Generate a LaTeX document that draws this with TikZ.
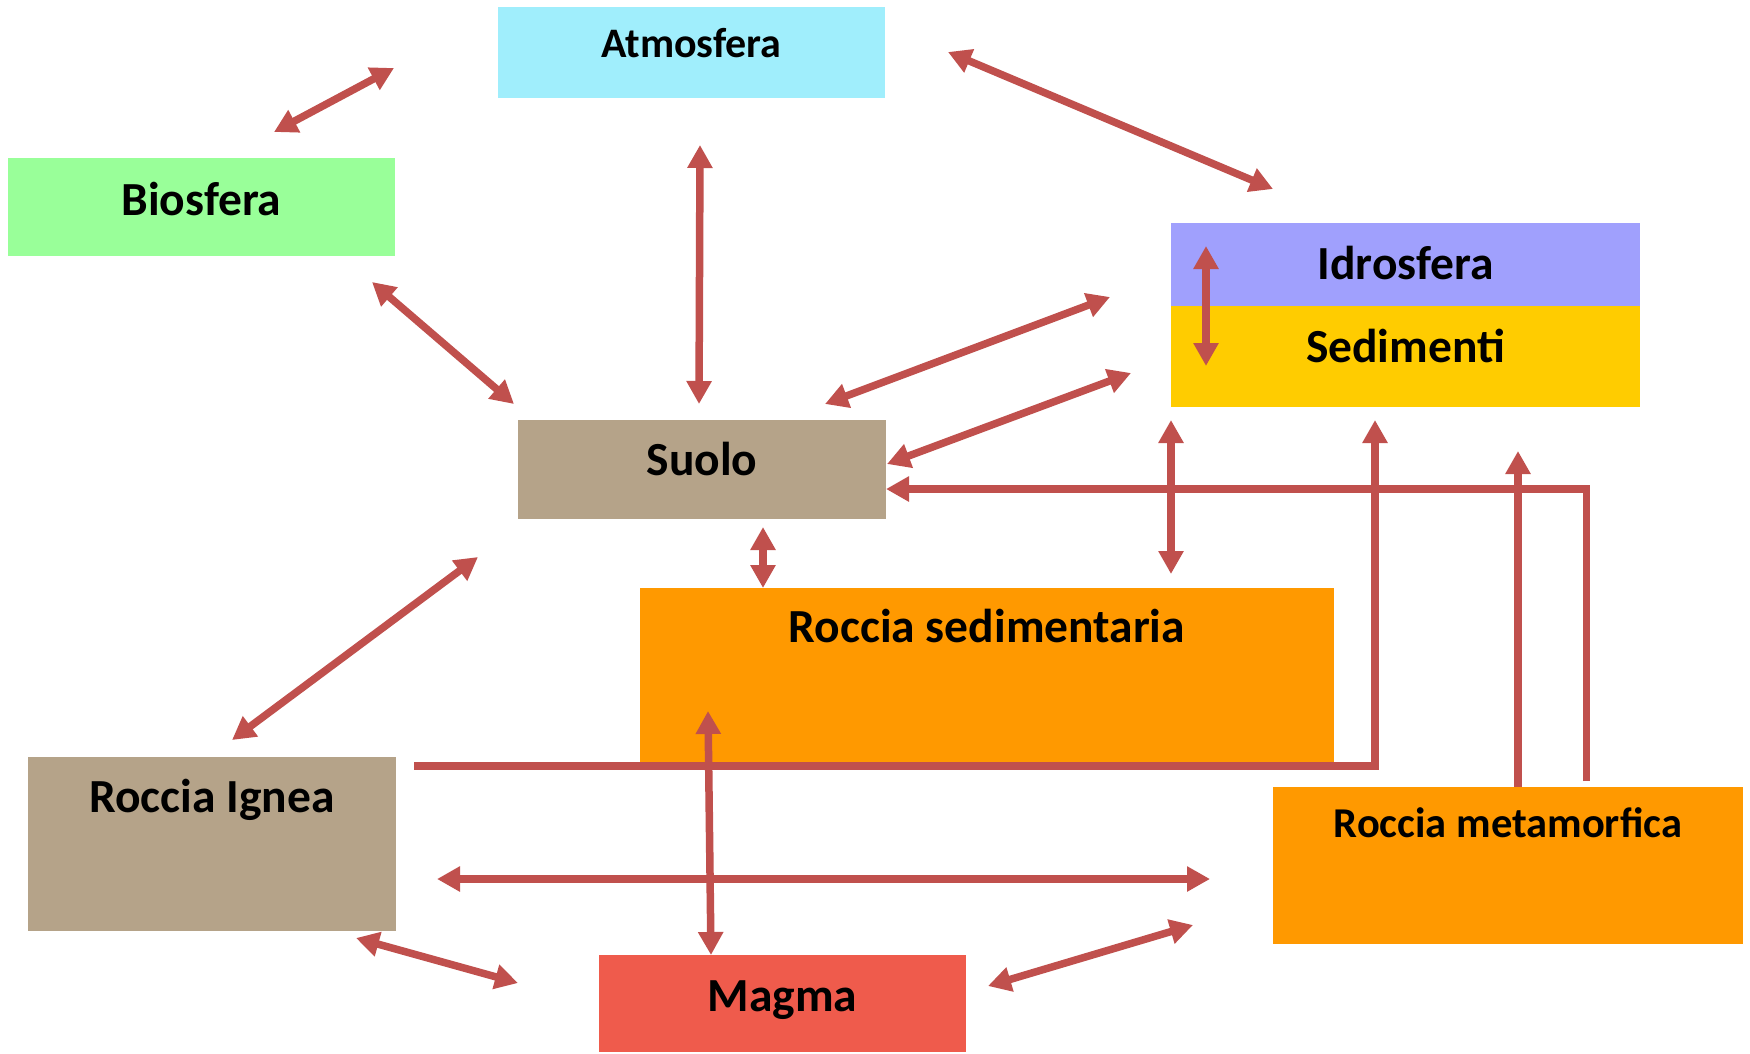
\documentclass[tikz,border=0pt]{standalone}
\usepackage{fontspec}
\setmainfont{Carlito}
\usetikzlibrary{arrows.meta,calc,positioning}

\definecolor{linkred}{RGB}{192,80,77}
\definecolor{atmcol}{RGB}{160,238,252}
\definecolor{biocol}{RGB}{153,255,153}
\definecolor{idrocol}{RGB}{160,160,253}
\definecolor{sedcol}{RGB}{255,204,0}
\definecolor{tancol}{RGB}{181,163,137}
\definecolor{rockcol}{RGB}{255,153,0}
\definecolor{magmacol}{RGB}{239,91,76}

\begin{document}
\begin{tikzpicture}[
        x=1pt, y=-1pt,
        >={Triangle[length=23pt,width=24pt]},
        link/.style={draw=linkred, line width=7.5pt},
        box/.style={inner sep=0pt, outer sep=0pt},
        lbl/.style={anchor=center, inner sep=0pt, text depth=0pt, font=\bfseries\fontsize{47.5}{52}\selectfont},
        smalllbl/.style={lbl, font=\bfseries\fontsize{42}{48}\selectfont}
    ]
    \useasboundingbox (0,0) rectangle (1750,1053);

    % Nodes
    \node[box, fill=atmcol, minimum width=387pt, minimum height=91pt,
        label={[smalllbl, yshift=-35.5pt]north:Atmosfera}] (atm) at (691.5,52.5) {};
    \node[box, fill=biocol, minimum width=387pt, minimum height=98pt,
        label={[lbl, yshift=-40.5pt]north:Biosfera}] (bio) at (201.5,207) {};
    \node[box, fill=idrocol, minimum width=469pt, minimum height=83pt,
        label={[lbl, yshift=-39.5pt]north:Idrosfera}] (idro) at (1405.5,264.5) {};
    \node[box, fill=sedcol, minimum width=469pt, minimum height=101pt,
        label={[lbl, yshift=-39.5pt]north:Sedimenti}] (sed) at (1405.5,356.5) {};
    \node[box, fill=tancol, minimum width=368pt, minimum height=99pt,
        label={[lbl, yshift=-38.5pt]north:Suolo}] (suolo) at (702,469.5) {};
    \node[box, fill=rockcol, minimum width=694pt, minimum height=174pt,
        label={[lbl, yshift=-38pt]north:Roccia sedimentaria}] (rsed) at (987,675) {};
    \node[box, fill=tancol, minimum width=368pt, minimum height=174pt,
        label={[lbl, yshift=-39pt]north:Roccia Ignea}] (ign) at (212,844) {};
    \node[box, fill=rockcol, minimum width=470pt, minimum height=157pt,
        label={[smalllbl, font=\bfseries\fontsize{42.5}{48}\selectfont, yshift=-36pt]north:Roccia metamorfica}] (meta) at (1508,865.5) {};
    \node[box, fill=magmacol, minimum width=367pt, minimum height=97pt,
        label={[lbl, yshift=-41pt]north:Magma}] (magma) at (782.5,1003.5) {};

    % Edges
    \draw[link,<->] ($(bio.north)+(72.5,-26)$) -- ($(atm.west)+(-104,15.5)$);
    \draw[link,<->] ($(atm.east)+(63,-0.5)$) -- ($(idro.north)+(-132.5,-34)$);
    \draw[link,<->] ($(atm.south)+(8.5,47)$) -- ($(suolo.north)+(-3,-16)$);
    \draw[link,<->] ($(bio.south east)+(-23,26)$) -- ($(suolo.north west)+(-4,-16)$);
    \draw[link,<->] ($(suolo.north east)+(-61,-16)$) -- ($(idro.west)+(-61,32.5)$);
    \draw[link,<->] ($(suolo.east)+(1,-5.5)$) -- ($(sed.west)+(-40,16.5)$);
    \draw[link,<->] ($(idro.north west)+(35,23)$) -- ($(sed.south west)+(35,-41)$);
    \draw[link,<->] ($(sed.south west)+(0,13)$) -- ($(rsed.north)+(184,-14)$);
    \draw[link,<->] ($(suolo.south)+(61,8)$) -- ($(rsed.north west)+(123,0)$);
    \draw[link,<->] ($(suolo.south west)+(-40,38)$) -- ($(ign.north)+(20,-17)$);
    \draw[link,<->] ($(rsed.west)+(68,36)$) -- ($(magma.north)+(-71.5,0)$);
    \draw[link,<->] ($(ign.east)+(41,35)$) -- ($(meta.west)+(-63,13.5)$);
    \draw[link,<->] ($(ign.south east)+(-40,7)$) -- ($(magma.west)+(-81,-20.5)$);
    \draw[link,<->] ($(magma.east)+(22,-17.5)$) -- ($(meta.south west)+(-80,-19)$);

    \draw[link,->] ($(ign.north east)+(18,9)$) -| ($(sed.south)+(-30.5,13)$);
    \draw[link,->] ($(meta.north)+(10,0)$) -- ($(sed.south)+(112.5,44)$);
    \draw[link,->] ($(meta.north)+(78.5,-6)$) |- ($(suolo.east)+(0,19.5)$);

\end{tikzpicture}
\end{document}
